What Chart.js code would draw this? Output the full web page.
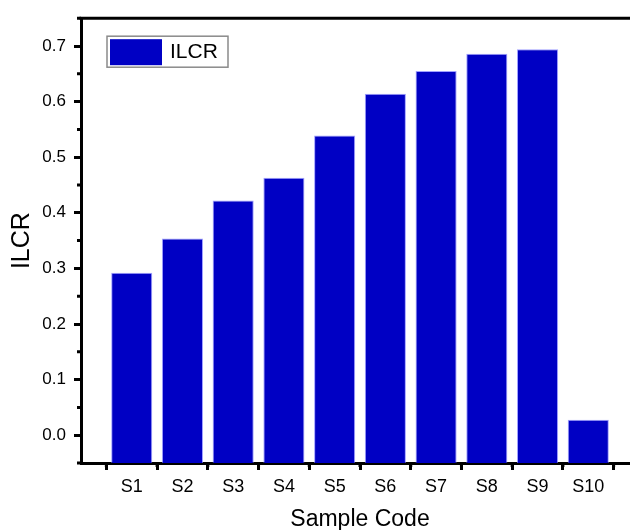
<!DOCTYPE html>
<html>
<head>
<meta charset="utf-8">
<script src="https://cdn.jsdelivr.net/npm/chart.js@4/dist/chart.umd.min.js"></script>
<style>
  html, body { margin: 0; padding: 0; background: #fff; overflow: hidden; }
  #wrap { width: 630px; height: 530px; overflow: hidden; position: relative; }
  canvas { display: block; }
</style>
</head>
<body>
<div id="wrap"><canvas id="c" width="660" height="530"></canvas></div>
<script>
const categories = ['S1', 'S2', 'S3', 'S4', 'S5', 'S6', 'S7', 'S8', 'S9', 'S10'];
const ilcrValues = [0.292, 0.354, 0.422, 0.463, 0.539, 0.614, 0.655, 0.686, 0.694, 0.028];
const yTickValues = [0.0, 0.1, 0.2, 0.3, 0.4, 0.5, 0.6, 0.7];
const yMinorValues = [-0.05, 0.05, 0.15, 0.25, 0.35, 0.45, 0.55, 0.65, 0.75];
const seriesName = 'ILCR';
const xTitle = 'Sample Code';
const yTitle = 'ILCR';

const FONT = "'Liberation Sans', Arial, sans-serif";
const BAR = '#0000c4';

const labels = [''].concat(categories, ['']);
const data = [null].concat(ilcrValues, [null]);

const framePlugin = {
  id: 'frame',
  afterDraw(chart) {
    const ctx = chart.ctx;
    const a = chart.chartArea;
    const x = chart.scales.x, y = chart.scales.y;
    ctx.save();
    ctx.strokeStyle = '#000';
    ctx.lineWidth = 3;
    ctx.beginPath();
    ctx.moveTo(a.left - 1.5, a.top);
    ctx.lineTo(a.right + 1.5, a.top);
    ctx.moveTo(a.right, a.top);
    ctx.lineTo(a.right, a.bottom);
    ctx.stroke();
    // minor ticks
    ctx.beginPath();
    for (let i = 0; i < labels.length - 1; i++) {
      const px = x.getPixelForValue(i + 0.5);
      ctx.moveTo(px, a.bottom);
      ctx.lineTo(px, a.bottom + 4);
    }
    yMinorValues.forEach(v => {
      const py = y.getPixelForValue(v);
      ctx.moveTo(a.left, py);
      ctx.lineTo(a.left - 4, py);
    });
    ctx.stroke();
    // legend
    const lx = a.left + 26, ly = a.top + 18;
    ctx.fillStyle = '#fff';
    ctx.fillRect(lx, ly, 121, 31);
    ctx.strokeStyle = '#8a8a8a';
    ctx.lineWidth = 1.5;
    ctx.strokeRect(lx, ly, 121, 31);
    ctx.fillStyle = BAR;
    ctx.fillRect(lx + 3, ly + 3, 52, 26);
    ctx.fillStyle = '#000';
    ctx.font = '21px ' + FONT;
    ctx.textBaseline = 'middle';
    ctx.textAlign = 'left';
    ctx.fillText(seriesName, lx + 63, ly + 16.5);
    ctx.restore();
  }
};

new Chart(document.getElementById('c'), {
  type: 'bar',
  data: {
    labels: labels,
    datasets: [{
      label: seriesName,
      data: data,
      base: -0.05,
      backgroundColor: BAR,
      borderColor: 'rgba(120,120,255,0.7)',
      borderWidth: 1,
      barPercentage: 0.81,
      categoryPercentage: 1.0
    }]
  },
  options: {
    responsive: false,
    animation: false,
    layout: { padding: { left: 0, top: 14, right: 21, bottom: 0 } },
    plugins: { legend: { display: false }, tooltip: { enabled: false } },
    scales: {
      x: {
        type: 'category',
        offset: false,
        afterFit(s) { s.height = 67; },
        grid: { display: true, drawOnChartArea: false, drawTicks: true, tickLength: 7, lineWidth: 3, color: '#000' },
        border: { display: true, width: 3, color: '#000' },
        ticks: { color: '#000', font: { family: FONT, size: 18 }, padding: 6, maxRotation: 0, autoSkip: false },
        title: { display: true, text: xTitle, color: '#000', font: { family: FONT, size: 23, lineHeight: 0.87 }, padding: { top: 0, bottom: 0 } }
      },
      y: {
        min: -0.05,
        max: 0.75,
        afterFit(s) { s.width = 81; },
        afterBuildTicks(s) { s.ticks = yTickValues.map(v => ({ value: v })); },
        grid: { display: true, drawOnChartArea: false, drawTicks: true, tickLength: 7, lineWidth: 3, color: '#000' },
        border: { display: true, width: 3, color: '#000' },
        ticks: { color: '#000', font: { family: FONT, size: 17 }, padding: 8, callback: v => Number(v).toFixed(1) },
        title: { display: true, text: yTitle, color: '#000', font: { family: FONT, size: 25, lineHeight: 1 }, padding: { top: 10, bottom: 0 } }
      }
    }
  },
  plugins: [framePlugin]
});
</script>
</body>
</html>
